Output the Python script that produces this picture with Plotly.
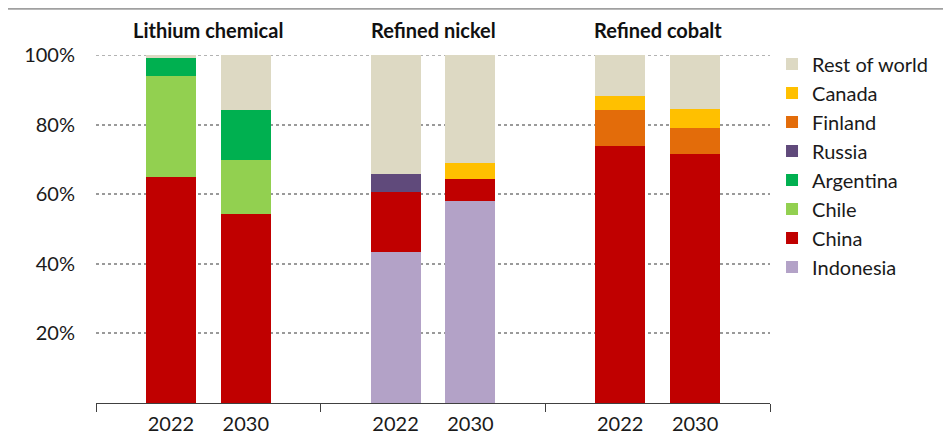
import plotly.graph_objects as go

groups = ["Lithium chemical", "Refined nickel", "Refined cobalt"]
years = ["2022", "2030"]

# shares (%) per group, per year: [g0y0, g0y1, g1y0, g1y1, g2y0, g2y1]
indonesia = [0, 0, 43.4, 58.0, 0, 0]
china = [65.0, 54.3, 17.2, 6.4, 73.9, 71.6]
chile = [29.0, 15.5, 0, 0, 0, 0]
argentina = [5.1, 14.4, 0, 0, 0, 0]
russia = [0, 0, 5.2, 0, 0, 0]
finland = [0, 0, 0, 0, 10.4, 7.5]
canada = [0, 0, 0, 4.6, 3.9, 5.4]
rest_of_world = [0.9, 15.8, 34.2, 31.0, 11.8, 15.5]

y_ticks = [20, 40, 60, 80, 100]
y_ticklabels = ["20%", "40%", "60%", "80%", "100%"]

series = [
    ("Indonesia", indonesia, "#B3A2C7"),
    ("China", china, "#C00000"),
    ("Chile", chile, "#92D050"),
    ("Argentina", argentina, "#00B050"),
    ("Russia", russia, "#604A7B"),
    ("Finland", finland, "#E36C0A"),
    ("Canada", canada, "#FFC000"),
    ("Rest of world", rest_of_world, "#DDD9C3"),
]

GW = 3  # group width in axis units
xpos = [gi * GW + yi + 1 for gi in range(len(groups)) for yi in range(len(years))]
xlabels = [y for _ in groups for y in years]

FONT = "Lato"
GRID = dict(color="#9a9a9a", dash="dot", width=1.5)
fig = go.Figure()
for name, vals, col in series:
    fig.add_trace(go.Bar(
        x=xpos, y=vals, name=name, marker=dict(color=col, line=dict(width=0)),
        width=0.667,
    ))

# invisible trace to carry the year labels axis
fig.add_trace(go.Scatter(x=xpos, y=[0] * len(xpos), xaxis="x2", mode="markers",
                         marker=dict(opacity=0), showlegend=False, hoverinfo="skip"))

fig.update_layout(
    barmode="stack",
    width=943, height=426,
    margin=dict(l=88, r=181, t=47, b=31, autoexpand=False),
    paper_bgcolor="white", plot_bgcolor="white",
    font=dict(family=FONT, size=20, color="#1a1a1a"),
    xaxis=dict(range=[0, GW * len(groups)], tickvals=[i * GW for i in range(len(groups) + 1)],
               ticktext=[""] * (len(groups) + 1), ticks="outside", ticklen=8, tickcolor="#404040",
               showline=True, linecolor="#404040", linewidth=1, showgrid=False, zeroline=False),
    xaxis2=dict(range=[0, GW * len(groups)], overlaying="x", anchor="y", tickvals=xpos,
                ticktext=xlabels, ticks="", showline=False, showgrid=False, zeroline=False,
                side="bottom", tickfont=dict(size=20), ticklabelstandoff=7),
    yaxis=dict(range=[0, 100], tickvals=y_ticks, ticktext=y_ticklabels,
               showgrid=True, gridcolor=GRID["color"], griddash=GRID["dash"], gridwidth=GRID["width"],
               zeroline=False, showline=False, ticks="", ticklabelstandoff=20,
               tickfont=dict(size=20)),
    legend=dict(x=1.003, y=1.03, xanchor="left", yanchor="top", traceorder="reversed",
                font=dict(size=20), itemwidth=30, tracegroupgap=0, bgcolor="rgba(0,0,0,0)",
                maxheight=1),
    showlegend=True,
)

# gridline at the top of the range (plotly hides the edge gridline)
fig.add_shape(type="line", xref="paper", yref="y", x0=0, x1=1, y0=y_ticks[-1], y1=y_ticks[-1],
              line=GRID, layer="below")

for gi, g in enumerate(groups):
    fig.add_annotation(x=gi * GW + GW / 2, y=1.0, xref="x", yref="paper", yshift=25,
                       yanchor="middle", text=f"<b>{g}</b>", showarrow=False,
                       font=dict(size=20, family=FONT, color="#111"))

fig.add_shape(type="line", xref="paper", yref="paper", x0=-0.1306, x1=1.27, y0=1.133, y1=1.133,
              line=dict(color="#a0a0a0", width=2))

fig.write_html("out.html")
